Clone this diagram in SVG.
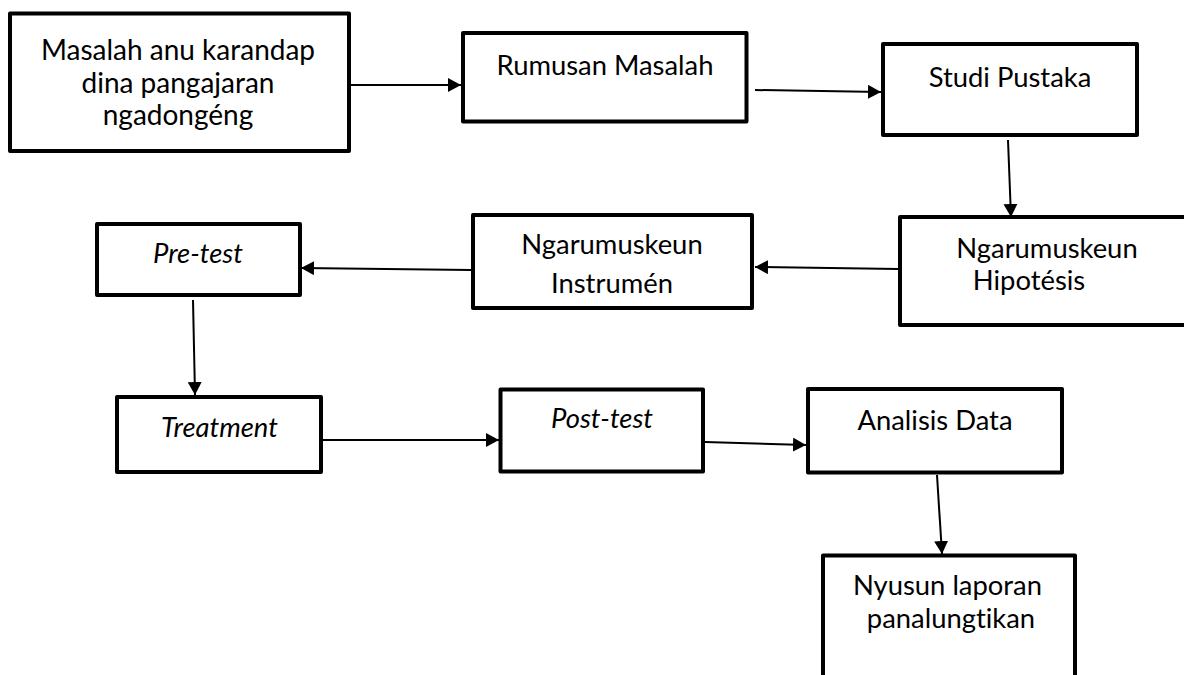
<svg xmlns="http://www.w3.org/2000/svg" width="1184" height="675" viewBox="0 0 1184 675">
<style>
.box{fill:#fff;stroke:#000;stroke-width:4;stroke-linejoin:round}
.t{font-family:Lato,"Liberation Sans",sans-serif;font-size:27.4px;fill:#000;text-anchor:middle;font-variant-ligatures:none}
.big{font-size:28px}
.i{font-style:italic}
.c{stroke:#000;stroke-width:2;fill:none;marker-end:url(#ah)}
</style>
<defs>
<marker id="ah" markerUnits="userSpaceOnUse" markerWidth="14" markerHeight="14" refX="13" refY="7" orient="auto" viewBox="0 0 14 14">
<path d="M0,0 L13,7 L0,14 z" fill="#000"/>
</marker>
</defs>
<rect width="1184" height="675" fill="#fff"/>
<g id="connectors">
<path class="c" d="M351,85 L461,85"/>
<path class="c" d="M755,90 L881,92"/>
<path class="c" d="M1008,140 L1011,217"/>
<path class="c" d="M898,269 L755,267"/>
<path class="c" d="M471,270 L301,268"/>
<path class="c" d="M193,300 L195,395"/>
<path class="c" d="M323,440 L499,440"/>
<path class="c" d="M705,442 L806,445"/>
<path class="c" d="M937,475 L942,554"/>
</g>
<g id="n1">
<rect class="box" x="10" y="13.5" width="339" height="137.5"/>
<text class="t big" x="178" y="60">Masalah anu karandap</text>
<text class="t big" x="178" y="93">dina pangajaran</text>
<text class="t big" x="178" y="125">ngadongéng</text>
</g>
<g id="n2">
<rect class="box" x="463" y="33" width="283.5" height="88.5"/>
<text class="t" x="605" y="75">Rumusan Masalah</text>
</g>
<g id="n3">
<rect class="box" x="883" y="44" width="254" height="91"/>
<text class="t" x="1010" y="87">Studi Pustaka</text>
</g>
<g id="n4">
<rect class="box" x="900" y="217" width="300" height="108"/>
<text class="t" x="1047" y="258">Ngarumuskeun</text>
<text class="t" x="1029" y="290">Hipotésis</text>
</g>
<g id="n5">
<rect class="box" x="473" y="215" width="279" height="93"/>
<text class="t" x="612" y="254">Ngarumuskeun</text>
<text class="t" x="612" y="293">Instrumén</text>
</g>
<g id="n6">
<rect class="box" x="97" y="224" width="203" height="71"/>
<text class="t i" x="198" y="263">Pre-test</text>
</g>
<g id="n7">
<rect class="box" x="117" y="397" width="204" height="75"/>
<text class="t i" x="219.5" y="437">Treatment</text>
</g>
<g id="n8">
<rect class="box" x="500.5" y="389.5" width="202.5" height="82"/>
<text class="t i" x="602" y="428">Post-test</text>
</g>
<g id="n9">
<rect class="box" x="808" y="389" width="254" height="83.5"/>
<text class="t" x="935" y="430">Analisis Data</text>
</g>
<g id="n10">
<rect class="box" x="823" y="555.5" width="252" height="140"/>
<text class="t" x="947.5" y="595">Nyusun laporan</text>
<text class="t" x="951" y="628">panalungtikan</text>
</g>
</svg>
